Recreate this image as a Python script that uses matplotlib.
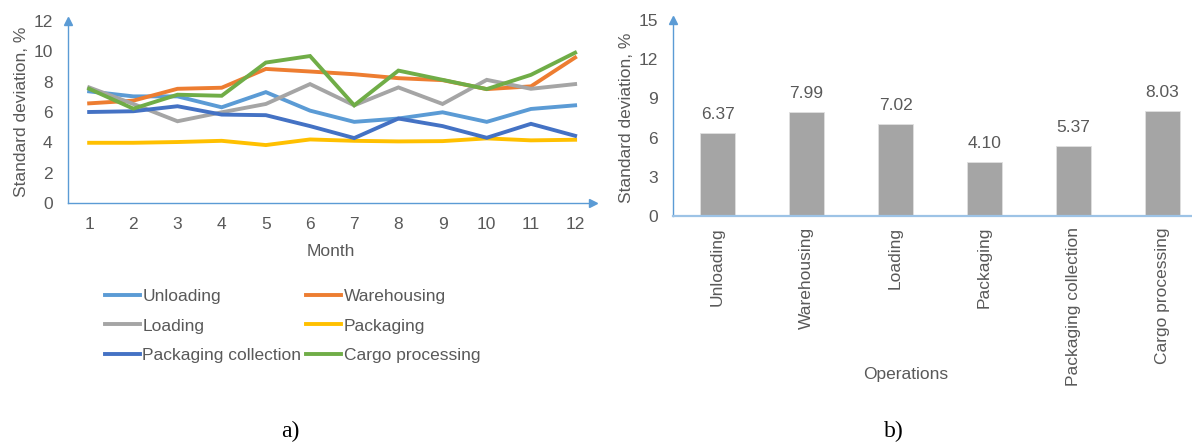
import matplotlib
matplotlib.use("Agg")
import matplotlib.pyplot as plt
import numpy as np

plt.rcParams['font.family'] = ['Liberation Sans', 'DejaVu Sans']

# monthly standard deviation, %
months = list(range(1, 13))
unloading = [7.36, 7.03, 7.03, 6.31, 7.31, 6.09, 5.35, 5.57, 5.98, 5.35, 6.20, 6.44]
warehousing = [6.57, 6.75, 7.53, 7.60, 8.84, 8.67, 8.49, 8.23, 8.10, 7.51, 7.69, 9.59]
loading = [7.62, 6.53, 5.39, 5.98, 6.53, 7.84, 6.44, 7.62, 6.53, 8.12, 7.53, 7.84]
packaging = [3.97, 3.97, 4.02, 4.10, 3.82, 4.19, 4.10, 4.06, 4.08, 4.26, 4.13, 4.17]
pack_collection = [6.00, 6.05, 6.38, 5.83, 5.79, 5.07, 4.28, 5.57, 5.07, 4.30, 5.22, 4.43]
cargo = [7.53, 6.22, 7.14, 7.07, 9.26, 9.69, 6.44, 8.73, 8.12, 7.51, 8.45, 9.91]

# averages per operation (panel b)
operations = ['Unloading', 'Warehousing', 'Loading', 'Packaging',
              'Packaging collection', 'Cargo processing']
avg_std = [6.37, 7.99, 7.02, 4.10, 5.37, 8.03]

txt = '#595959'
axis_blue = '#5B9BD5'
fs = 12.5

fig = plt.figure(figsize=(11.92, 4.44), dpi=100)

# ---- a) line chart
ax1 = fig.add_axes([0.0570, 0.5428, 0.4403, 0.4099])
series = [(unloading, 'Unloading', '#5B9BD5'),
          (warehousing, 'Warehousing', '#ED7D31'),
          (loading, 'Loading', '#A5A5A5'),
          (packaging, 'Packaging', '#FFC000'),
          (pack_collection, 'Packaging collection', '#4472C4'),
          (cargo, 'Cargo processing', '#70AD47')]
lines = []
for vals, name, col in series:
    ln, = ax1.plot(months, vals, color=col, lw=2.8, label=name,
                   solid_joinstyle='miter')
    lines.append(ln)
ax1.set_xlim(0.52, 12.4)
ax1.set_ylim(0, 12)
ax1.set_xticks(months)
ax1.set_yticks(np.arange(0, 13, 2))
ax1.set_xlabel('Month', fontsize=fs, color=txt, labelpad=9)
ax1.set_ylabel('Standard deviation, %', fontsize=fs, color=txt, labelpad=3)

# ---- b) bar chart
ax2 = fig.add_axes([0.5646, 0.5135, 0.448, 0.4414])
x = np.arange(len(operations))
bars = ax2.bar(x, avg_std, width=0.4, color='#A5A5A5', edgecolor='#E0E0E0', lw=0.6)
for b, v in zip(bars, avg_std):
    ax2.annotate('%.2f' % v, (b.get_x() + b.get_width() / 2, v),
                 xytext=(0, 8), textcoords='offset points',
                 ha='center', va='bottom', fontsize=fs, color=txt)
ax2.set_xlim(-0.5, 5.5)
ax2.set_ylim(0, 15)
ax2.set_yticks(np.arange(0, 16, 3))
ax2.set_xticks(x)
ax2.set_xticklabels(operations, rotation=90)
ax2.set_xlabel('Operations', fontsize=fs, color=txt)
ax2.xaxis.set_label_coords(0.436, -0.77)
ax2.set_ylabel('Standard deviation, %', fontsize=fs, color=txt, labelpad=3)

for ax, xcol in ((ax1, axis_blue), (ax2, '#9DC3E6')):
    for s in ('top', 'right'):
        ax.spines[s].set_visible(False)
    ax.spines['left'].set_color(axis_blue)
    ax.spines['bottom'].set_color(xcol)
    ax.spines['left'].set_linewidth(1.0)
    ax.spines['bottom'].set_linewidth(1.6 if ax is ax2 else 1.0)
    ax.tick_params(length=0, labelsize=fs, labelcolor=txt)
    ax.tick_params(axis='y', pad=11)
    ax.plot(0, 1, marker='^', color=axis_blue, ms=6, transform=ax.transAxes,
            clip_on=False)

ax1.tick_params(axis='x', pad=10)
ax2.tick_params(axis='x', pad=8)
ax1.plot(1, 0, marker='>', color=axis_blue, ms=6, transform=ax1.transAxes,
         clip_on=False)

# legend filled row by row, two columns
order = [0, 2, 4, 1, 3, 5]
ax1.legend([lines[i] for i in order], [series[i][1] for i in order],
           loc='center', bbox_to_anchor=(0.2454, 0.2658),
           bbox_transform=fig.transFigure, ncol=2, frameon=False,
           fontsize=fs, labelcolor=txt, handlelength=2.0, handletextpad=0.15,
           columnspacing=0.3, labelspacing=0.85, borderpad=0)

fig.text(0.2433, 0.015, 'a)', fontsize=17, family='Liberation Serif', ha='center')
fig.text(0.750, 0.015, 'b)', fontsize=17, family='Liberation Serif', ha='center')

fig.savefig('out.png', dpi=100)
